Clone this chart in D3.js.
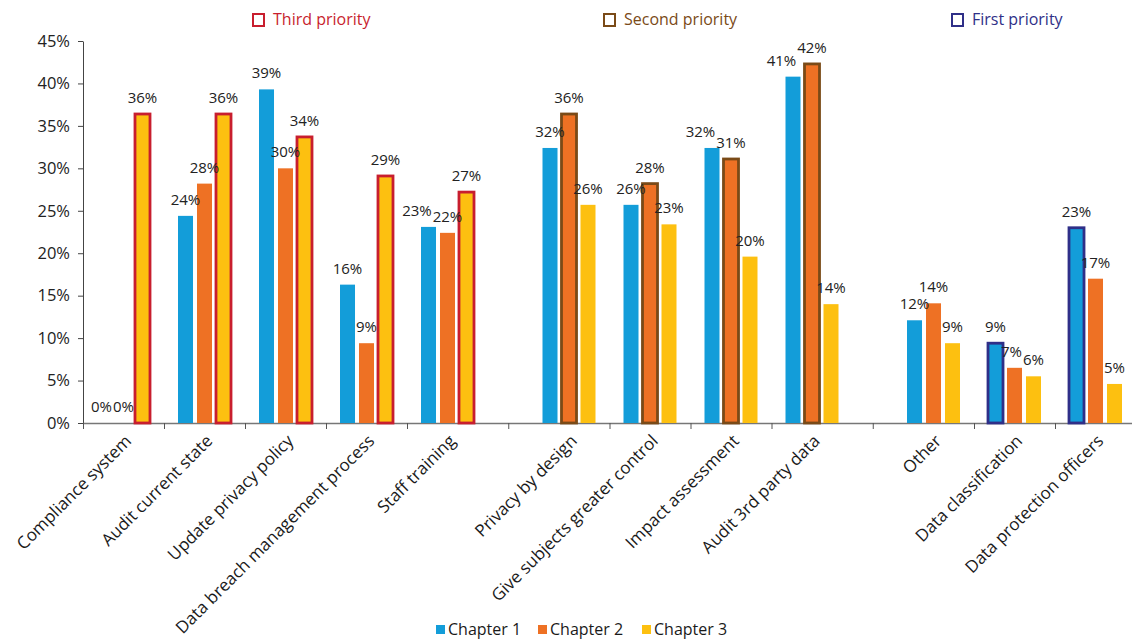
<!DOCTYPE html>
<html>
<head>
<meta charset="utf-8">
<script src="https://cdn.jsdelivr.net/npm/d3@7"></script>
<style>
  html, body { margin: 0; padding: 0; background: #fff; }
  svg { display: block; font-family: "Open Sans", "Noto Sans", sans-serif; }
</style>
</head>
<body>
<svg id="chart" width="1132" height="641"></svg>
<script>
// Categories, in drawing order, and the priority group each belongs to
const categories = [
  "Compliance system", "Audit current state", "Update privacy policy",
  "Data breach management process", "Staff training",
  "Privacy by design", "Give subjects greater control", "Impact assessment",
  "Audit 3rd party data",
  "Other", "Data classification", "Data protection officers"
];
const groupOf = [0, 0, 0, 0, 0, 1, 1, 1, 1, 2, 2, 2];
const priorities = ["Third priority", "Second priority", "First priority"];

// Series (percent)
const seriesNames = ["Chapter 1", "Chapter 2", "Chapter 3"];
const chapter1 = [0, 24.4, 39.3, 16.3, 23.1, 32.4, 25.7, 32.4, 40.8, 12.1, 9.4, 23.0];
const chapter2 = [0, 28.2, 30.0, 9.4, 22.4, 36.4, 28.2, 31.1, 42.3, 14.1, 6.5, 17.0];
const chapter3 = [36.4, 36.4, 33.7, 29.1, 27.2, 25.7, 23.4, 19.6, 14.0, 9.4, 5.5, 4.6];

// Which series is the highlighted one in each category (null = none)
const highlightSeries = [2, 2, 2, 2, 2, 1, 1, 1, 1, null, 0, 0];

// Y axis ticks
const yTicks = [0, 5, 10, 15, 20, 25, 30, 35, 40, 45];

const seriesColors = ["#139dd9", "#ee7124", "#fdc010"];
const priorityColors = ["#c81e2e", "#7a4a17", "#2f2f88"];

const svg = d3.select("#chart");
const values = [chapter1, chapter2, chapter3];

// Horizontal slots: one per category plus half a slot between groups
const slotOf = categories.map((c, i) => i + 0.5 * groupOf[i]);
const nSlots = categories.length + 0.5 * (priorities.length - 1);
const x = d3.scaleLinear().domain([0, nSlots]).range([83, 1136]);
const inner = d3.scaleBand().domain(d3.range(seriesNames.length))
  .range([-26.5, 26.5]).paddingInner(0.21).paddingOuter(0);
const y = d3.scaleLinear().domain([0, 45]).range([423, 41]);

const fmt = v => d3.format(".0f")(v) + "%";

// Y axis
const yAxis = svg.append("g")
  .attr("transform", `translate(${x(0)},0)`)
  .call(d3.axisLeft(y).tickValues(yTicks).tickFormat(d => d + "%").tickSize(5).tickSizeOuter(0));
yAxis.select(".domain").attr("stroke", "#444");
yAxis.selectAll(".tick line").attr("stroke", "#444");
yAxis.selectAll(".tick text").attr("font-size", 16.5).attr("fill", "#222")
  .attr("font-family", "'Open Sans', sans-serif").attr("x", -13);

// X axis tick positions: category boundaries, and the middle of each gap
const xTickSlots = [0];
for (let i = 1; i < categories.length; i++) {
  if (groupOf[i] === groupOf[i - 1]) xTickSlots.push(slotOf[i]);
  else xTickSlots.push((slotOf[i - 1] + 1 + slotOf[i]) / 2);
}
const xAxis = svg.append("g")
  .attr("transform", `translate(0,${y(0)})`)
  .call(d3.axisBottom(x).tickValues(xTickSlots).tickFormat("").tickSize(6).tickSizeOuter(0));
xAxis.select(".domain").attr("stroke", "#777").attr("stroke-width", 1.3);
xAxis.selectAll(".tick line").attr("stroke", "#555");

// Bars
const barData = [];
categories.forEach((c, i) => {
  values.forEach((arr, s) => {
    barData.push({ i, s, v: arr[i], hi: highlightSeries[i] === s });
  });
});
const cx = i => x(slotOf[i] + 0.5);

svg.append("g").selectAll("rect")
  .data(barData.filter(d => d.v > 0))
  .join("rect")
  .attr("x", d => cx(d.i) + inner(d.s))
  .attr("width", inner.bandwidth())
  .attr("y", d => y(d.v))
  .attr("height", d => y(0) - y(d.v))
  .attr("fill", d => seriesColors[d.s])
  .attr("stroke", d => d.hi ? priorityColors[groupOf[d.i]] : "none")
  .attr("stroke-width", 2.8);

// Value labels, centred over each bar
const labels = svg.append("g").selectAll("text")
  .data(barData)
  .join("text")
  .attr("x", d => cx(d.i) + inner(d.s) + inner.bandwidth() / 2)
  .attr("y", d => y(d.v) - 11)
  .attr("text-anchor", "middle")
  .attr("font-size", 15)
  .attr("fill", "#222")
  .text(d => fmt(d.v));

// Where two neighbouring labels collide, slide the left one further left
labels.each(function (d) { d.w = this.getComputedTextLength(); d.lx = +this.getAttribute("x"); d.ly = +this.getAttribute("y"); });
categories.forEach((c, i) => {
  const row = barData.filter(d => d.i === i);
  for (let s = row.length - 2; s >= 0; s--) {
    const a = row[s], b = row[s + 1];
    const vOverlap = Math.abs(a.ly - b.ly) < 13;
    const gap = (b.lx - b.w / 2) - (a.lx + a.w / 2);
    if (vOverlap && gap < 0) a.lx += gap - 1;
  }
});
labels.attr("x", d => d.lx);

// Category labels
svg.append("g").selectAll("text")
  .data(categories)
  .join("text")
  .attr("transform", (c, i) => `translate(${cx(i) + 9},442) rotate(-45)`)
  .attr("text-anchor", "end")
  .attr("font-size", 17)
  .attr("fill", "#1a1a1a")
  .text(c => c);

// Priority keys above each group
const keyX = [252, 603, 951];
priorities.forEach((p, g) => {
  const k = svg.append("g").attr("transform", `translate(${keyX[g]},13)`);
  k.append("rect").attr("x", 1).attr("y", 1).attr("width", 11).attr("height", 12)
    .attr("fill", "#fff").attr("stroke", priorityColors[g]).attr("stroke-width", 2);
  k.append("text").attr("x", 21).attr("y", 12).attr("font-size", 16)
    .attr("fill", priorityColors[g]).text(p);
});

// Series legend
const legendX = [436, 538, 642];
const lg = svg.append("g");
seriesNames.forEach((n, s) => {
  lg.append("rect").attr("x", legendX[s]).attr("y", 625).attr("width", 9).attr("height", 9)
    .attr("fill", seriesColors[s]);
  lg.append("text").attr("x", legendX[s] + 12).attr("y", 635).attr("font-size", 16)
    .attr("fill", "#1a1a1a").text(n);
});
</script>
</body>
</html>
